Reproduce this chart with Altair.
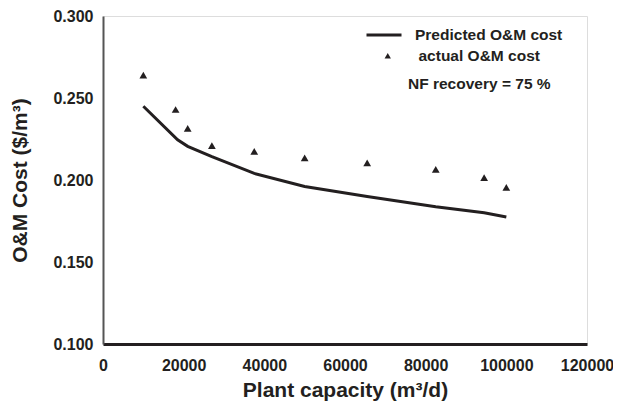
import altair as alt
import pandas as pd

capacity_actual = [10000, 18000, 21000, 27000, 37500, 50000, 65500, 82500, 94500, 100000]
cost_actual = [0.264, 0.243, 0.2315, 0.221, 0.2175, 0.2135, 0.2105, 0.2065, 0.2015, 0.1955]

capacity_pred = [10000, 18500, 21000, 27000, 37500, 50000, 65500, 82500, 94500, 100000]
cost_pred = [0.245, 0.2245, 0.2205, 0.2142, 0.2040, 0.1960, 0.1900, 0.1837, 0.1800, 0.1775]

x_ticks = [0, 20000, 40000, 60000, 80000, 100000, 120000]
y_ticks = [0.1, 0.15, 0.2, 0.25, 0.3]

df_pred = pd.DataFrame({"x": capacity_pred, "y": cost_pred, "s": "Predicted O&M cost"})
df_act = pd.DataFrame({"x": capacity_actual, "y": cost_actual, "s": "actual O&M cost"})

FONT = "Liberation Sans"
INK = "#231f20"

xscale = alt.Scale(domain=[0, 120000], nice=False)
yscale = alt.Scale(domain=[0.1, 0.3], nice=False, zero=False)

xaxis = alt.Axis(title="Plant capacity (m³/d)", values=x_ticks,
                 format="d", ticks=False, grid=False, labelFont=FONT, labelFontWeight="bold",
                 labelFontSize=16, labelColor=INK, labelPadding=13,
                 titleFont=FONT, titleFontWeight="bold", titleFontSize=21, titleColor=INK,
                 titlePadding=6, domainColor=INK, domainWidth=3, labelFlush=False)
yaxis = alt.Axis(title="O&M Cost ($/m³)", values=y_ticks, format=".3f",
                 ticks=False, grid=False, labelFont=FONT, labelFontWeight="bold",
                 labelFontSize=16, labelColor=INK, labelPadding=10,
                 titleFont=FONT, titleFontWeight="bold", titleFontSize=21, titleColor=INK,
                 titlePadding=22, domainColor="#555555", domainWidth=2, labelFlush=False)

line = alt.Chart(df_pred).mark_line(strokeWidth=3, color=INK).encode(
    x=alt.X("x:Q", scale=xscale, axis=xaxis),
    y=alt.Y("y:Q", scale=yscale, axis=yaxis),
    color=alt.Color("s:N", scale=alt.Scale(range=[INK]),
                    legend=alt.Legend(title=None, orient="none", legendX=262, legendY=0,
                                      symbolType="stroke", symbolSize=1225, symbolStrokeWidth=3,
                                      labelFont=FONT, labelFontWeight="bold", labelFontSize=15.5,
                                      labelColor=INK, labelOffset=12, padding=0)),
)

pts = alt.Chart(df_act).mark_point(shape="triangle-up", filled=True, size=60, opacity=1,
                                   color=INK).encode(
    x="x:Q",
    y="y:Q",
    shape=alt.Shape("s:N", scale=alt.Scale(range=["triangle-up"]),
                    legend=alt.Legend(title=None, orient="none", legendX=277, legendY=32,
                                      symbolFillColor=INK, symbolStrokeColor=INK,
                                      symbolSize=40, symbolOpacity=1,
                                      labelFont=FONT, labelFontWeight="bold", labelFontSize=15.5,
                                      labelColor=INK, labelOffset=23, padding=0)),
)

note = alt.Chart(pd.DataFrame({"t": ["NF recovery = 75 %"]})).mark_text(
    font=FONT, fontWeight="bold", fontSize=15.5, color=INK, align="left", baseline="middle"
).encode(text="t:N", x=alt.value(305), y=alt.value(68))

chart = alt.layer(line, pts, note).resolve_scale(color="independent", shape="independent").properties(
    width=484, height=328,
    autosize=alt.AutoSizeParams(type="none"),
    padding={"left": 95, "top": 8, "right": 26, "bottom": 58},
).configure_view(stroke=INK, strokeWidth=2).configure(background="white")

chart.save("out.html", embed_options={"renderer": "svg", "actions": False})
